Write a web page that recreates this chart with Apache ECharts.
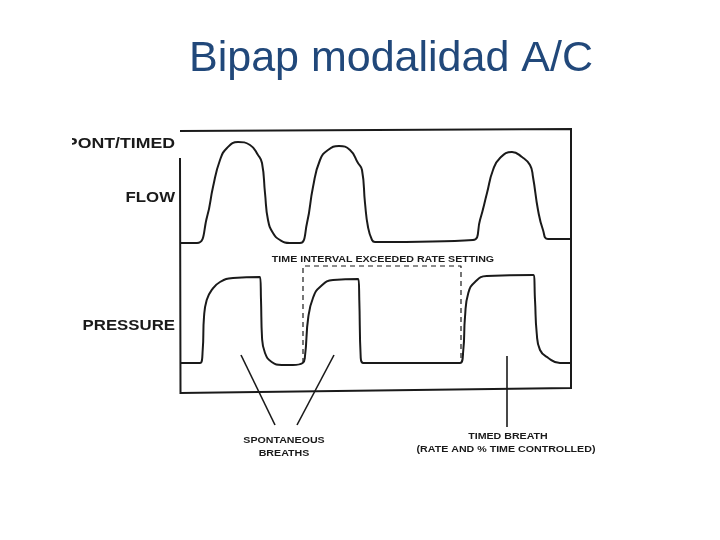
<!DOCTYPE html>
<html lang="es">
<head>
    <meta charset="UTF-8">
    <title>Bipap modalidad A/C</title>
    <script src="https://cdn.jsdelivr.net/npm/echarts@6/dist/echarts.min.js"></script>
    <style>
        html, body { margin: 0; padding: 0; background: #fff; }
        #main { width: 720px; height: 540px; }
    </style>
</head>
<body>
<div id="main"></div>
<script>
    // [tiempo, valor] (unidades arbitrarias)
    var flowPoints = [
        [0, 0], [17, 0], [27, 26], [33, 56], [40, 83], [47, 95], [58, 101], [70, 98], [78, 88], [82, 80],
        [85, 50], [88, 23], [93, 10], [100, 3], [110, 0], [120, 0], [127, 20], [133, 56], [140, 83],
        [148, 93], [159, 97], [170, 93], [178, 80], [182, 73], [185, 40], [188, 16], [192, 3], [195, 1],
        [293, 3], [300, 23], [307, 50], [313, 73], [320, 85], [332, 91], [342, 86], [350, 78], [353, 66],
        [358, 33], [363, 13], [368, 4], [392, 4]
    ];
    var pressurePoints = [
        [0, 0], [20, 0], [22.7, 13], [24, 46], [26.7, 63], [31.7, 73], [40, 81], [53, 85], [80, 86],
        [81, 63], [82, 26], [85, 10], [91.7, 1], [101.7, -2], [113, -2], [122.7, 0], [125, 7], [128.3, 46],
        [133.3, 66], [140, 76], [153, 83], [178.3, 84], [179.3, 63], [180.7, 6], [183.3, 0], [280, 0],
        [283.3, 13], [285, 46], [288.3, 70], [295, 81], [306.7, 87], [353.3, 88], [355, 63], [356.7, 30],
        [360, 13], [368.3, 5], [380, 0], [392, 0]
    ];
    // intervalo de tiempo que supera la frecuencia programada
    var intervalBox = [[123, 0], [123, 97], [281, 97], [281, 0]];

    var ink = '#1a1a1a';
    var labelFont = 'Liberation Sans, Arial, sans-serif';

    function label(text, x, y, size, align, sx) {
        return {
            type: 'text', x: x, y: y, scaleX: sx || 1.12,
            style: {
                text: text, fill: ink, font: 'bold ' + size + 'px ' + labelFont,
                textAlign: align || 'center', textVerticalAlign: 'middle'
            }
        };
    }
    function stroke(x1, y1, x2, y2) {
        return {
            type: 'line', shape: {x1: x1, y1: y1, x2: x2, y2: y2},
            style: {stroke: ink, lineWidth: 1.6}
        };
    }

    var myChart = echarts.init(document.getElementById('main'));
    var option = {
        animation: false,
        backgroundColor: '#fff',
        title: {
            text: 'Bipap modalidad A/C',
            left: 184,
            top: 33,
            textStyle: {fontSize: 43, fontWeight: 'normal', color: '#21487a', fontFamily: labelFont}
        },
        grid: [
            {left: 180, width: 392, top: 128, height: 125},
            {left: 180, width: 392, top: 260, height: 132}
        ],
        xAxis: [
            {type: 'value', gridIndex: 0, min: 0, max: 392, show: false},
            {type: 'value', gridIndex: 1, min: 0, max: 392, show: false}
        ],
        yAxis: [
            {type: 'value', gridIndex: 0, min: -10, max: 115, show: false},
            {type: 'value', gridIndex: 1, min: -29, max: 103, show: false}
        ],
        series: [
            {
                name: 'FLOW', type: 'line', xAxisIndex: 0, yAxisIndex: 0,
                data: flowPoints, showSymbol: false, smooth: 0.5,
                lineStyle: {color: ink, width: 2}
            },
            {
                name: 'PRESSURE', type: 'line', xAxisIndex: 1, yAxisIndex: 1,
                data: pressurePoints, showSymbol: false, smooth: 0.5,
                lineStyle: {color: ink, width: 2}
            },
            {
                name: 'intervalo', type: 'line', xAxisIndex: 1, yAxisIndex: 1,
                data: intervalBox, showSymbol: false,
                lineStyle: {color: ink, width: 1.2, type: [5, 4]}
            }
        ],
        graphic: [
            {
                type: 'polyline',
                shape: {points: [[180, 158], [180.5, 393], [571, 388], [571, 129], [180, 131]]},
                style: {stroke: ink, lineWidth: 2, fill: null}
            },
            stroke(241, 355, 275, 425),
            stroke(334, 355, 297, 425),
            stroke(507, 356, 507, 427),
            label('SPONT/TIMED', 175, 144, 15, 'right', 1.18),
            label('FLOW', 175, 198, 15, 'right'),
            label('PRESSURE', 175, 326, 15, 'right'),
            label('TIME INTERVAL EXCEEDED RATE SETTING', 383, 259, 9.5),
            label('SPONTANEOUS', 284, 440, 9.5),
            label('BREATHS', 284, 453, 9.5),
            label('TIMED BREATH', 508, 436, 9.5),
            label('(RATE AND % TIME CONTROLLED)', 506, 449, 9.5),
            {type: 'rect', shape: {x: 0, y: 132, width: 72, height: 26}, style: {fill: '#fff'}},
            {type: 'rect', shape: {x: 230, y: 456, width: 110, height: 12}, style: {fill: '#fff'}}
        ]
    };
    myChart.setOption(option);
</script>
</body>
</html>
